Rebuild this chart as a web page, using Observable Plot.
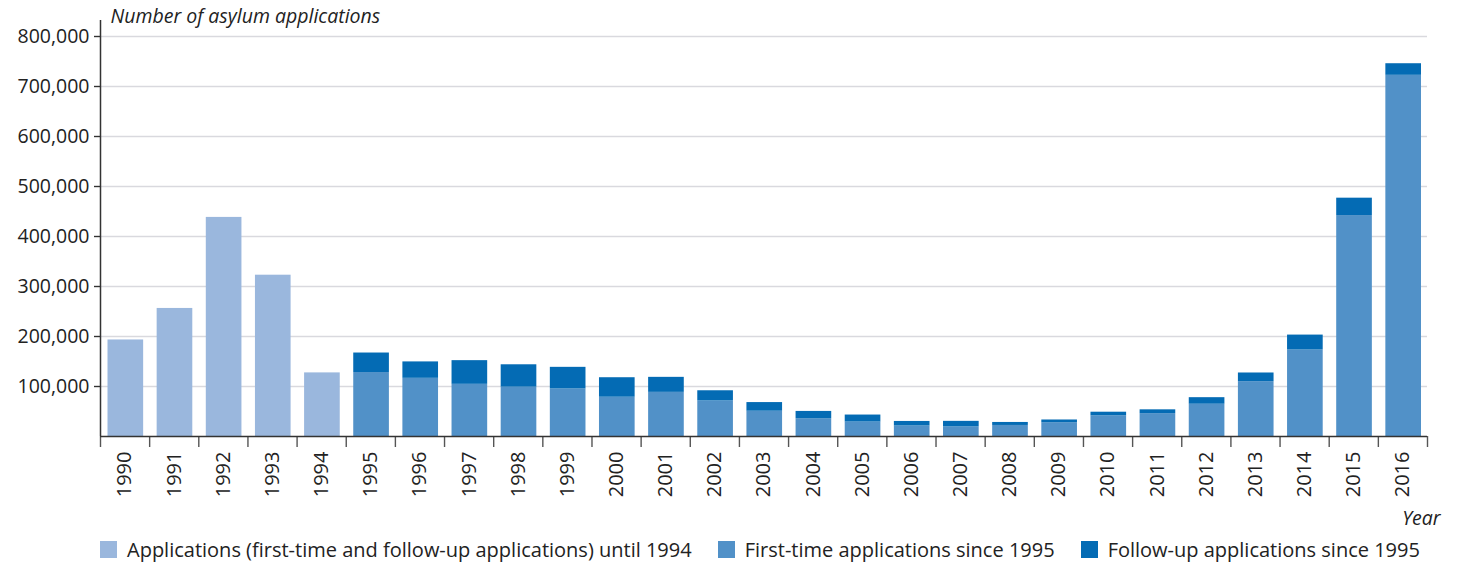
<!DOCTYPE html>
<html><head><meta charset="utf-8">
<script src="https://cdn.jsdelivr.net/npm/d3@7"></script>
<script src="https://cdn.jsdelivr.net/npm/@observablehq/plot@0.6"></script>
<style>
body{margin:0;background:#fff;font-family:"Open Sans", Lato, sans-serif;}
#legend{display:flex;align-items:center;height:25px;padding-left:100px;font-size:20px;color:#222;white-space:nowrap}
.item{display:flex;align-items:center;margin-right:26px}
.sw{width:17px;height:17px;margin-right:10px;flex:none}
#chart svg g[aria-label="y-axis tick label"]{font-size:19.5px !important}
#chart svg g[aria-label="x-axis tick label"]{font-size:20px !important}
</style></head><body>
<div id="chart"></div>
<div id="legend"></div>
<script>
const yearsEarly = [1990, 1991, 1992, 1993, 1994];
const combinedUntil1994 = [193063, 256112, 438191, 322599, 127210];
const yearsLate = [1995, 1996, 1997, 1998, 1999, 2000, 2001, 2002, 2003, 2004, 2005, 2006, 2007, 2008, 2009, 2010, 2011, 2012, 2013, 2014, 2015, 2016];
const firstTime = [127937, 116367, 104353, 98644, 95113, 78564, 88287, 71127, 50563, 35607, 28914, 21029, 19164, 22085, 27649, 41332, 45741, 64539, 109580, 173072, 441899, 722370];
const followUp = [39014, 32824, 47347, 44785, 43206, 38984, 30019, 20344, 17285, 14545, 13994, 9071, 11139, 6009, 5384, 7257, 7606, 13112, 17443, 29762, 34750, 23175];
const seriesNames = ["Applications (first-time and follow-up applications) until 1994", "First-time applications since 1995", "Follow-up applications since 1995"];
const seriesColors = ["#9ab7dd", "#5191c8", "#046bb4"];
const yTicks = [100000, 200000, 300000, 400000, 500000, 600000, 700000, 800000];
const titleText = "Number of asylum applications";
const xLabelText = "Year";

const years = [...yearsEarly, ...yearsLate];
const rows = [];
yearsEarly.forEach((y, i) => rows.push({year: y, series: seriesNames[0], value: combinedUntil1994[i]}));
yearsLate.forEach((y, i) => {
  rows.push({year: y, series: seriesNames[1], value: firstTime[i]});
  rows.push({year: y, series: seriesNames[2], value: followUp[i]});
});
const boundaries = [...years, years[years.length - 1] + 1];

const chart = Plot.plot({
  width: 1457,
  height: 537,
  marginLeft: 100,
  marginRight: 30,
  marginTop: 20,
  marginBottom: 101,
  style: {fontFamily: "'Open Sans', Lato, sans-serif", fontSize: "20px", color: "#222", background: "#fff"},
  x: {domain: [boundaries[0], boundaries[boundaries.length - 1]], label: null},
  y: {domain: [0, 832000], label: null},
  color: {domain: seriesNames, range: seriesColors},
  marks: [
    Plot.gridY({ticks: yTicks, stroke: "#d9d9de", strokeOpacity: 1, strokeWidth: 1.5}),
    Plot.rectY(rows, {x: "year", interval: 1, y: "value", fill: "series", insetLeft: 7.5, insetRight: 6}),
    Plot.axisY({ticks: yTicks, tickFormat: d3.format(","), tickSize: 6, tickPadding: 5, label: null, stroke: "#333", strokeWidth: 1.4, fontSize: 19.5}),
    Plot.ruleX([boundaries[0]], {stroke: "#333", strokeWidth: 1.5}),
    Plot.axisX({ticks: boundaries, tickSize: 11, tickFormat: () => "", label: null, stroke: "#555", strokeWidth: 1.4}),
    Plot.axisX({ticks: years.map(y => y + 0.5), tickSize: 0, tickPadding: 15, tickRotate: -90, tickFormat: d => String(Math.floor(d)), label: null, fontSize: 20}),
    Plot.ruleY([0], {stroke: "#333", strokeWidth: 1.5}),
    Plot.text([titleText], {frameAnchor: "top-left", lineAnchor: "top", dx: 10, dy: -11, fontStyle: "italic", fontSize: 19.5, textAnchor: "start", fill: "#222"}),
    Plot.text([xLabelText], {frameAnchor: "bottom-right", lineAnchor: "bottom", dx: 13, dy: 88, fontStyle: "italic", fontSize: 19.5, textAnchor: "end", fill: "#222"})
  ]
});
document.getElementById("chart").appendChild(chart);

const legend = document.getElementById("legend");
seriesNames.forEach((name, i) => {
  const item = document.createElement("div");
  item.className = "item";
  const sw = document.createElement("span");
  sw.className = "sw";
  sw.style.background = seriesColors[i];
  const label = document.createElement("span");
  label.textContent = name;
  item.appendChild(sw);
  item.appendChild(label);
  legend.appendChild(item);
});
</script>
</body></html>
